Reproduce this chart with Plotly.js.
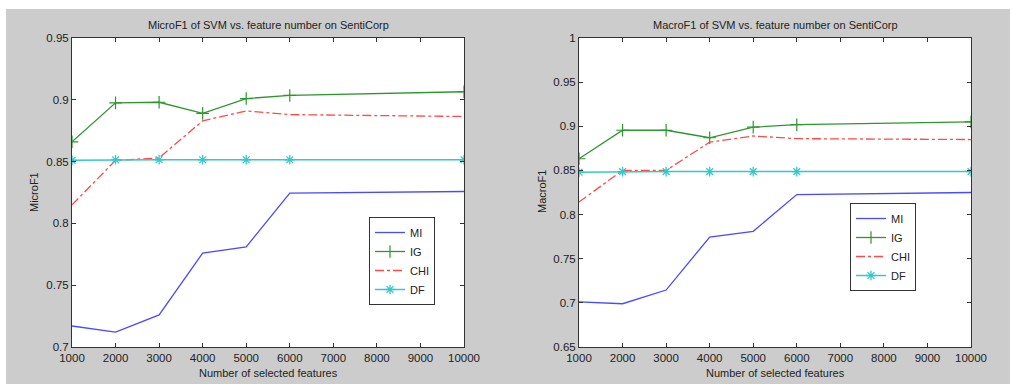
<!DOCTYPE html>
<html>
<head>
<meta charset="utf-8">
<script src="https://cdn.plot.ly/plotly-3.0.1.min.js"></script>
<style>
html,body{margin:0;padding:0;background:#ffffff;width:1011px;height:384px;overflow:hidden;}
#chart{position:absolute;left:6px;top:9px;width:1004px;height:375px;}
</style>
</head>
<body>
<div id="chart"></div>
<script>
// ---- data ----
const featureNumbers = [1000, 2000, 3000, 4000, 5000, 6000, 10000];
const xTickVals = [1000, 2000, 3000, 4000, 5000, 6000, 7000, 8000, 9000, 10000];
const xTickText = ["1000", "2000", "3000", "4000", "5000", "6000", "7000", "8000", "9000", "10000"];

const microMI  = [0.717, 0.712, 0.726, 0.776, 0.781, 0.8245, 0.8258];
const microIG  = [0.866, 0.8975, 0.898, 0.889, 0.901, 0.9035, 0.9065];
const microCHI = [0.815, 0.851, 0.853, 0.883, 0.891, 0.888, 0.8865];
const microDF  = [0.851, 0.8515, 0.8515, 0.8515, 0.8515, 0.8515, 0.8515];

const macroMI  = [0.701, 0.699, 0.7145, 0.7745, 0.781, 0.8226, 0.825];
const macroIG  = [0.8632, 0.8955, 0.8955, 0.887, 0.899, 0.9018, 0.905];
const macroCHI = [0.8143, 0.85, 0.85, 0.882, 0.889, 0.886, 0.885];
const macroDF  = [0.848, 0.8487, 0.8487, 0.8487, 0.8487, 0.8487, 0.8487];

const seriesNames = ["MI", "IG", "CHI", "DF"];
const microTicks = [0.7, 0.75, 0.8, 0.85, 0.9, 0.95];
const macroTicks = [0.65, 0.7, 0.75, 0.8, 0.85, 0.9, 0.95, 1];

// ---- styles ----
const colors = {MI: "#4a4aff", IG: "#2f962f", CHI: "#ff4a4a", DF: "#35c8c8"};
const FONT = "'Liberation Sans', Arial, sans-serif";

function makeTraces(vals, xa, ya, legendId) {
  return [
    {x: featureNumbers, y: vals[0], name: seriesNames[0], mode: "lines", xaxis: xa, yaxis: ya, legend: legendId,
     line: {color: colors.MI, width: 1.3}},
    {x: featureNumbers, y: vals[1], name: seriesNames[1], mode: "lines+markers", xaxis: xa, yaxis: ya, legend: legendId,
     line: {color: colors.IG, width: 1.3},
     marker: {symbol: "cross-thin-open", size: 9, color: colors.IG, line: {color: colors.IG, width: 1.2}}},
    {x: featureNumbers, y: vals[2], name: seriesNames[2], mode: "lines", xaxis: xa, yaxis: ya, legend: legendId,
     line: {color: colors.CHI, width: 1.3, dash: "dashdot"}},
    {x: featureNumbers, y: vals[3], name: seriesNames[3], mode: "lines+markers", xaxis: xa, yaxis: ya, legend: legendId,
     line: {color: colors.DF, width: 1.5},
     marker: {symbol: "asterisk-open", size: 8, color: colors.DF, line: {color: colors.DF, width: 1.3}}}
  ];
}

const data = [].concat(
  makeTraces([microMI, microIG, microCHI, microDF], "x", "y", "legend"),
  makeTraces([macroMI, macroIG, macroCHI, macroDF], "x2", "y2", "legend2")
);

const W = 1004, H = 375;
const yDom = [(H - 338) / H, (H - 29) / H];

function xAxis(domain, anchor) {
  return {domain: domain, anchor: anchor, range: [1000, 10000], tickvals: xTickVals, ticktext: xTickText,
    ticks: "inside", ticklen: 4, tickcolor: "#333", showline: true, linecolor: "#333", linewidth: 1,
    mirror: "ticks", showgrid: false, zeroline: false, tickfont: {family: FONT, size: 11.5, color: "#222"}};
}
function yAxis(range, ticks, anchor) {
  return {domain: yDom, anchor: anchor, range: range, tickvals: ticks,
    ticks: "inside", ticklen: 4, tickcolor: "#333", showline: true, linecolor: "#333", linewidth: 1,
    mirror: "ticks", showgrid: false, zeroline: false, tickfont: {family: FONT, size: 11.5, color: "#222"}};
}

function legendCfg(x, y) {
  return {x: x, y: y, xanchor: "left", yanchor: "top", bgcolor: "#ffffff", bordercolor: "#333",
    borderwidth: 1, font: {family: FONT, size: 11, color: "#222"}, tracegroupgap: 0, itemwidth: 30};
}

const ann = (text, x, y, extra) => Object.assign({text: text, x: x, y: y, xref: "paper", yref: "paper",
  showarrow: false, font: {family: FONT, size: 11, color: "#222"}, xanchor: "center", yanchor: "middle"}, extra || {});

const layout = {
  width: W, height: H,
  margin: {l: 0, r: 0, t: 0, b: 0},
  paper_bgcolor: "#cccccc",
  plot_bgcolor: "#ffffff",
  showlegend: true,
  xaxis: xAxis([66 / W, 458 / W], "y"),
  yaxis: yAxis([0.7, 0.95], microTicks, "x"),
  xaxis2: xAxis([573 / W, 965 / W], "y2"),
  yaxis2: yAxis([0.65, 1], macroTicks, "x2"),
  legend: legendCfg(363 / W, (H - 208) / H),
  legend2: legendCfg(844 / W, (H - 194) / H),
  annotations: [
    ann("MicroF1 of SVM vs. feature number on SentiCorp", 262 / W, (H - 16) / H),
    ann("MacroF1 of SVM vs. feature number on SentiCorp", 769 / W, (H - 16) / H),
    ann("Number of selected features", 262 / W, (H - 364) / H),
    ann("Number of selected features", 769 / W, (H - 364) / H),
    ann("MicroF1", 28 / W, (H - 183) / H, {textangle: -90}),
    ann("MacroF1", 536 / W, (H - 183) / H, {textangle: -90})
  ]
};

Plotly.newPlot("chart", data, layout, {staticPlot: true, displayModeBar: false});
</script>
</body>
</html>
